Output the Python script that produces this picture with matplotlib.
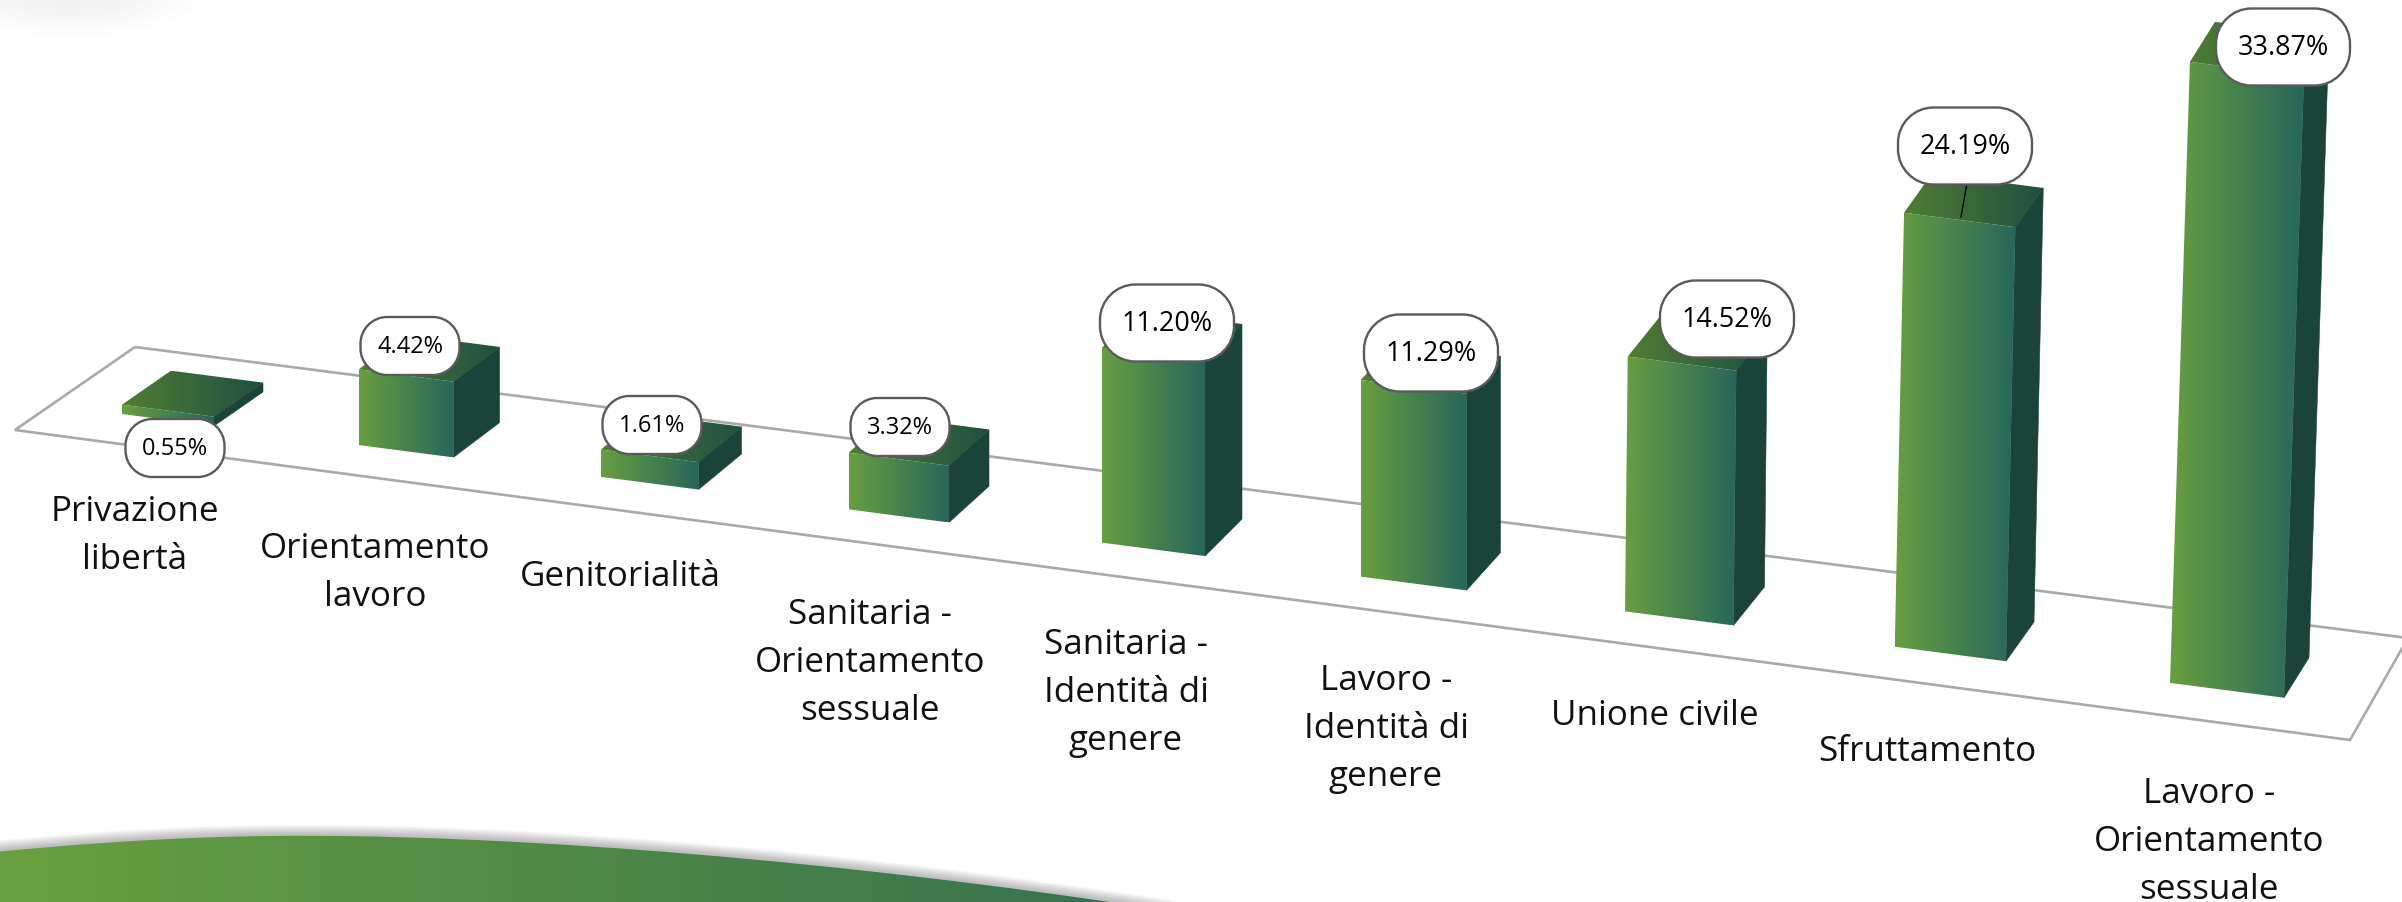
"""
Pseudo-3D bar chart: percentages by category, drawn on a tilted floor.
Axes run in image pixels, the bars go through a small perspective projection.
"""
import numpy as np
import matplotlib
matplotlib.use("Agg")
import matplotlib.pyplot as plt
from matplotlib.colors import LinearSegmentedColormap
from matplotlib.patches import Polygon, PathPatch, Ellipse
from matplotlib.path import Path

plt.rcParams["font.family"] = ["Open Sans", "DejaVu Sans"]

categories = [
    "Privazione\nlibertà",
    "Orientamento\nlavoro",
    "Genitorialità",
    "Sanitaria -\nOrientamento\nsessuale",
    "Sanitaria -\nIdentità di\ngenere",
    "Lavoro -\nIdentità di\ngenere",
    "Unione civile",
    "Sfruttamento",
    "Lavoro -\nOrientamento\nsessuale",
]
values = [0.55, 4.42, 1.61, 3.32, 11.20, 11.29, 14.52, 24.19, 33.87]

# layout only, in image pixels
W, H = 2402, 903
cat_xy = [(135, 536), (375, 573), (620, 577), (870, 663), (1126, 693),
          (1386, 729), (1655, 716), (1927, 752), (2209, 842)]
box_xy = [(175, 449), (410, 347), (652, 426), (900, 428), (1167, 324),
          (1431, 354), (1727, 320), (1965, 147), (2283, 48)]
floor_xy = [(135, 348), (15, 431), (2350, 741), (2408, 639)]

GREEN_L, GREEN_R = "#689f40", "#26665a"
TOP_L, TOP_R = "#4f7d33", "#20503f"
SIDE = "#1a443a"


def project(i, v):
    """Corner points of bar i with value v: bottom-left, width and depth steps, lift."""
    x = 122 + 234 * i + 2.75 * i ** 2
    y = 415 + 0.1313 * (x - 122)
    w = 92 + 2.75 * i
    dx, dy = 49 - 3 * i, -34 - 0.75 * i
    h = 16.96 * v + 0.0406 * v ** 2
    lean = max(0, i - 5) * 0.0107 * h
    return x, y, w, dx, dy, h, lean


def grad_poly(ax, pts, c0, c1, z):
    pts = np.array(pts)
    cmap = LinearSegmentedColormap.from_list("g", [c0, c1])
    im = ax.imshow(np.linspace(0, 1, 256)[None, :], cmap=cmap, aspect="auto", zorder=z,
                   extent=(pts[:, 0].min(), pts[:, 0].max(), pts[:, 1].max(), pts[:, 1].min()),
                   interpolation="bilinear")
    clip = Polygon(pts, fc="none", ec="none", zorder=z)
    ax.add_patch(clip)
    im.set_clip_path(clip)


def pill(cx, cy, bw, bh, r):
    # rounded box with true elliptical corners, the library one comes out too square
    x0, x1, y0, y1 = cx - bw / 2, cx + bw / 2, cy - bh / 2, cy + bh / 2
    k = 0.55 * r
    verts = [(x0 + r, y0), (x1 - r, y0),
             (x1 - r + k, y0), (x1, y0 + r - k), (x1, y0 + r),
             (x1, y1 - r),
             (x1, y1 - r + k), (x1 - r + k, y1), (x1 - r, y1),
             (x0 + r, y1),
             (x0 + r - k, y1), (x0, y1 - r + k), (x0, y1 - r),
             (x0, y0 + r),
             (x0, y0 + r - k), (x0 + r - k, y0), (x0 + r, y0),
             (x0 + r, y0)]
    codes = [Path.MOVETO, Path.LINETO,
             Path.CURVE4, Path.CURVE4, Path.CURVE4,
             Path.LINETO,
             Path.CURVE4, Path.CURVE4, Path.CURVE4,
             Path.LINETO,
             Path.CURVE4, Path.CURVE4, Path.CURVE4,
             Path.LINETO,
             Path.CURVE4, Path.CURVE4, Path.CURVE4,
             Path.CLOSEPOLY]
    return Path(verts, codes)


fig = plt.figure(figsize=(W / 100, H / 100), dpi=100)
ax = fig.add_axes([0, 0, 1, 1])

# faint smudge top left
for k in range(8):
    ax.add_patch(Ellipse((70, -8), 270 - k * 28, 90 - k * 9, fc="#e8e8e8", ec="none",
                         alpha=0.07, zorder=0))

# floor
ax.add_patch(Polygon(floor_xy, closed=True, fc="none", ec="#a9a9a9", lw=1.9, zorder=1))

# bars
for i, v in enumerate(values):
    x, y, w, dx, dy, h, lean = project(i, v)
    drop = 0.13 * w
    bl = (x, y)
    br = (x + w, y + drop)
    tl = (x + lean, y - h)
    tr = (x + w + lean, y + drop - h)
    btl = (tl[0] + dx, tl[1] + dy)
    btr = (tr[0] + dx, tr[1] + dy)
    bbr = (br[0] + dx, br[1] + dy)
    z = 2 + i * 0.1
    grad_poly(ax, [tl, btl, btr, tr], TOP_L, TOP_R, z)
    ax.add_patch(Polygon([tr, btr, bbr, br], fc=SIDE, ec=SIDE, lw=0.4, zorder=z))
    grad_poly(ax, [bl, tl, tr, br], GREEN_L, GREEN_R, z + 0.01)

# leader of the 24.19 label
ax.plot([1966.5, 1961], [187, 218], color="black", lw=1.0, zorder=3.5)

# value callouts
for i, v in enumerate(values):
    cx, cy = box_xy[i]
    big = v > 10
    bw, bh = (134, 77) if big else (99, 58)
    ax.add_patch(PathPatch(pill(cx, cy, bw, bh, bh * 0.46),
                           fc="white", ec="#5a5a5a", lw=1.7, zorder=4))
    ax.text(cx, cy, f"{v:.2f}%", ha="center", va="center", color="black",
            fontsize=19.4 if big else 17, zorder=5)

# category labels
for (cx, cy), name in zip(cat_xy, categories):
    ax.text(cx, cy, name, ha="center", va="center", color="#111111",
            fontsize=25.2, linespacing=1.55, zorder=5)

# green swoosh at the bottom, with its soft shadow
verts = [(-5, 853), (150, 838), (250, 836), (340, 837),
         (520, 839), (820, 858), (1170, 912), (1170, 930), (-5, 930), (-5, 853)]
codes = [Path.MOVETO, Path.CURVE4, Path.CURVE4, Path.CURVE4,
         Path.CURVE4, Path.CURVE4, Path.CURVE4, Path.LINETO, Path.LINETO, Path.CLOSEPOLY]
swoosh = Path(verts, codes)
for lw in np.arange(16, 1, -1.5):
    ax.add_patch(PathPatch(swoosh, fc="none", ec="#555555", lw=lw, alpha=0.045, zorder=6))
grad = LinearSegmentedColormap.from_list("s", ["#68a040", "#35704e"])
im = ax.imshow(np.linspace(0, 1, 256)[None, :], cmap=grad, aspect="auto", zorder=7,
               extent=(0, 1170, H, 830), interpolation="bilinear")
patch = PathPatch(swoosh, fc="none", ec="none", zorder=7)
ax.add_patch(patch)
im.set_clip_path(patch)

ax.set_xlim(0, W)
ax.set_ylim(H, 0)
ax.set_axis_off()
fig.savefig("out.png", dpi=100, facecolor="white")
